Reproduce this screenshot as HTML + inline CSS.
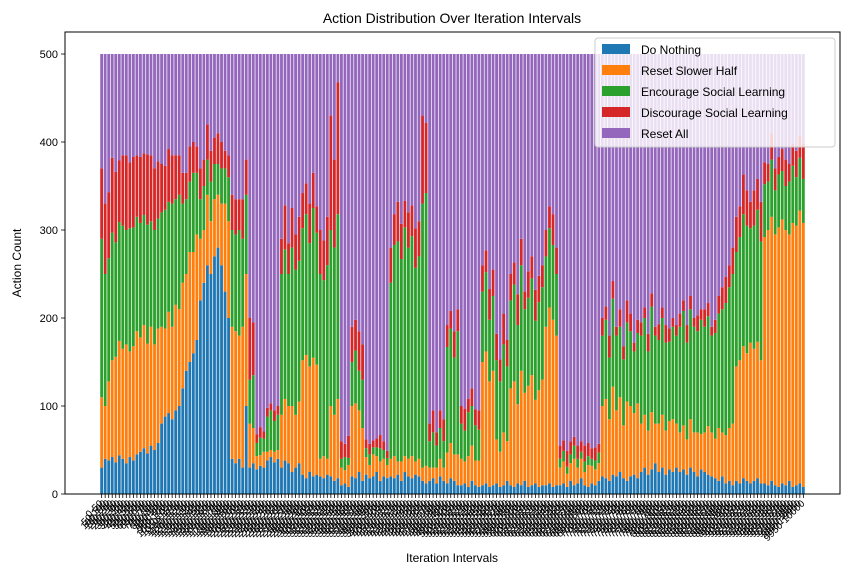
<!DOCTYPE html>
<html><head><meta charset="utf-8"><style>
body{margin:0;background:#fff;}
svg{display:block;font-family:"Liberation Sans","DejaVu Sans",sans-serif;}
</style></head><body>
<svg id="chart" width="850" height="574" xmlns="http://www.w3.org/2000/svg">
<rect width="850" height="574" fill="#fff"/>
<g id="bars"></g>
<g id="xticks"></g>
<g id="yticks"></g>
<rect x="65" y="32" width="775" height="462" fill="none" stroke="#000" stroke-width="1"/>
<text x="452" y="23" text-anchor="middle" font-size="14">Action Distribution Over Iteration Intervals</text>
<text x="452" y="562" text-anchor="middle" font-size="12">Iteration Intervals</text>
<text transform="translate(21,263) rotate(-90)" text-anchor="middle" font-size="12">Action Count</text>
<g id="legend"></g>
</svg>
<script>
const doNothing=[30,
40,38,42,36,44,40,35,42,38,45,
48,52,46,55,50,58,
80,88,92,85,95,100,
120,140,150,160,175,
220,240,260,250,270,280,260,
230,200,40,
35,40,30,
100,
30,35,
28,32,30,
38,42,36,40,
30,38,35,25,30,35,
22,18,25,20,22,
20,18,22,
20,15,18,
10,12,8,
20,18,25,15,
22,18,20,25,15,20,18,
20,18,22,15,25,20,18,22,20,
15,12,
15,18,12,20,15,
12,18,15,10,
10,12,8,15,10,8,
10,12,8,10,
12,8,10,15,
10,8,12,10,15,8,10,12,8,10,
10,12,8,10,
10,12,8,15,10,12,18,10,8,12,10,15,
20,18,15,22,20,25,18,15,20,22,18,
25,30,22,28,35,25,30,22,28,25,30,
25,28,22,30,25,20,28,25,22,20,18,15,20,12,15,10,
15,12,18,15,12,15,18,12,
12,10,15,10,8,12,10,15,8,10,12,8];
const resetSlower=[80,
60,90,110,120,130,125,135,120,130,140,
130,140,125,135,120,130,
110,100,115,105,120,110,
120,110,125,115,120,
70,60,80,60,65,60,70,
100,110,150,
150,140,160,
150,
50,40,
15,12,18,
10,8,12,10,
60,70,65,75,60,70,
130,140,120,135,125,
20,25,18,
80,75,90,
20,15,25,
80,85,70,60,
20,15,25,18,22,20,15,
20,25,15,22,18,20,25,15,20,
15,20,
15,12,18,20,15,
35,40,30,35,
30,25,35,40,28,30,
140,150,120,130,
50,40,60,45,
110,120,90,130,100,115,125,95,110,120,
180,200,190,170,
20,25,15,20,30,18,22,15,25,20,18,20,
80,90,70,100,75,85,60,90,80,70,85,
55,60,50,65,45,55,60,50,55,60,50,
45,50,40,55,45,50,40,45,55,50,45,60,50,55,60,70,
130,140,150,145,160,150,155,140,
280,290,300,285,295,300,290,280,300,295,310,300];
const encourage=[180,
150,140,145,130,135,140,130,140,135,130,
130,125,135,120,130,125,
130,135,125,140,120,130,
90,85,80,90,70,
45,50,40,45,40,35,40,
40,50,110,
110,120,100,
90,
50,60,
15,20,15,
40,45,35,40,
160,170,150,180,165,160,
150,160,140,170,150,
210,200,220,
200,190,210,
10,15,8,
50,60,45,55,
10,12,8,10,15,10,8,
200,240,250,230,260,240,250,220,230,
300,310,
30,40,25,35,30,
120,130,110,140,
40,35,50,45,40,35,
80,90,70,85,
90,80,100,85,
100,110,90,120,95,100,110,90,100,105,
80,90,85,70,
10,12,8,10,15,10,8,12,10,8,10,12,
80,90,70,100,85,80,75,90,85,70,80,
100,110,90,120,100,95,110,100,90,105,100,
120,130,110,125,120,115,130,120,125,110,120,130,140,150,160,170,
130,140,150,145,130,140,150,135,
60,55,65,50,60,55,50,60,65,55,60,50];
const discourage=[80,
80,75,85,80,70,80,85,75,80,70,
75,70,80,75,70,65,
55,50,60,55,50,45,
35,30,40,35,30,
35,30,40,35,30,35,30,
20,25,40,
40,35,45,
40,
70,60,
10,12,8,
10,8,12,10,
40,50,35,45,40,50,
40,35,45,40,30,
50,45,55,
130,100,150,
20,15,25,
40,35,45,40,
10,12,8,10,15,10,8,
40,35,45,40,30,40,35,45,40,
100,80,
20,25,15,20,25,
25,20,30,25,
20,25,15,20,18,22,
30,25,35,30,
30,25,35,30,
30,25,35,30,20,30,25,35,30,25,
30,25,35,30,
15,12,18,15,10,15,12,18,15,12,15,10,
20,15,25,20,10,20,15,25,20,10,15,
15,12,20,15,10,18,12,20,15,10,12,
15,12,20,15,10,18,12,20,15,10,15,20,25,30,25,30,
40,35,45,40,30,40,35,45,
25,20,30,25,20,25,30,20,25,30,25,40];
const total=500;
const seriesNames=["Do Nothing","Reset Slower Half","Encourage Social Learning","Discourage Social Learning","Reset All"];
const colors=["#1f77b4","#ff7f0e","#2ca02c","#d62728","#9467bd"];
const yTicks=[0,100,200,300,400,500];
const intervalSize=50;

const NS="http://www.w3.org/2000/svg";
const N=doNothing.length;
const X0=65,X1=840,Y0=494,Y1=32;
const xmin=-0.4-0.05*(N-1+0.8),xmax=N-1+0.4+0.05*(N-1+0.8);
const xs=v=>X0+(v-xmin)/(xmax-xmin)*(X1-X0);
const ys=v=>Y0-v/525*(Y0-Y1);
function mk(tag,attrs,parent){const e=document.createElementNS(NS,tag);for(const k in attrs)e.setAttribute(k,attrs[k]);parent.appendChild(e);return e;}
const bars=document.getElementById('bars');
const names=["do-nothing","reset-slower-half","encourage-social","discourage-social","reset-all"];
for(let i=0;i<N;i++){
  const vals=[doNothing[i],resetSlower[i],encourage[i],discourage[i]];
  vals.push(Math.max(0,total-vals.reduce((a,b)=>a+b,0)));
  let base=0;
  for(let s=0;s<5;s++){
    const r=mk('rect',{x:xs(i-0.4),width:xs(i+0.4)-xs(i-0.4),y:ys(base+vals[s]),height:ys(base)-ys(base+vals[s]),fill:colors[s]},bars);
    
    
    base+=vals[s];
  }
}
const xt=document.getElementById('xticks');
for(let i=0;i<N;i++){
  const x=xs(i);
  const l=mk('line',{x1:x,x2:x,y1:Y0,y2:Y0+4,stroke:'#000','stroke-width':0.8},xt);
  
  
  const t=mk('text',{x:x+2,y:Y0+10,'font-size':10,'text-anchor':'end',transform:`rotate(-45 ${x+2} ${Y0+10})`},xt);
  t.textContent=(i*intervalSize)+'-'+((i+1)*intervalSize);
  
  
}
const yt=document.getElementById('yticks');
yTicks.forEach(v=>{
  const y=ys(v);
  const l=mk('line',{x1:X0-4,x2:X0,y1:y,y2:y,stroke:'#000','stroke-width':0.8},yt);
  
  
  const t=mk('text',{x:X0-7,y:y+4,'font-size':11,'text-anchor':'end'},yt);
  t.textContent=v;
  
  
});
const lg=document.getElementById('legend');
const box=mk('rect',{x:595,y:38,width:240,height:109,rx:3,fill:'#fff','fill-opacity':0.8,stroke:'#ccc'},lg);


seriesNames.forEach((n,k)=>{
  const y=44+k*21;
  const p=mk('rect',{x:602,y:y,width:28,height:10,fill:colors[k]},lg);
  
  
  const t=mk('text',{x:641,y:y+10,'font-size':12},lg);
  t.textContent=n;
  
  
});
</script>
</body></html>
